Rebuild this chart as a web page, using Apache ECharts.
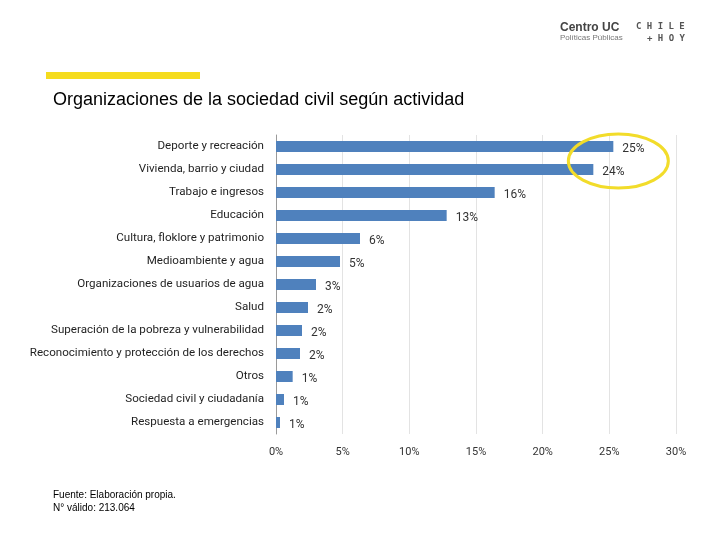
<!DOCTYPE html>
<html><head><meta charset="utf-8">
<script src="https://cdn.jsdelivr.net/npm/echarts@6/dist/echarts.min.js"></script>
<style>html,body{margin:0;padding:0;background:#fff}#c{width:720px;height:540px}</style>
</head><body><div id="c"></div>
<script>
const categories = ["Deporte y recreación","Vivienda, barrio y ciudad","Trabajo e ingresos","Educación","Cultura, floklore y patrimonio","Medioambiente y agua","Organizaciones de usuarios de agua","Salud","Superación de la pobreza y vulnerabilidad","Reconocimiento y protección de los derechos","Otros","Sociedad civil y ciudadanía","Respuesta a emergencias"];
const values = [25.3, 23.8, 16.4, 12.8, 6.3, 4.8, 3.0, 2.4, 1.95, 1.8, 1.25, 0.6, 0.3];
const valueLabels = ["25%","24%","16%","13%","6%","5%","3%","2%","2%","2%","1%","1%","1%"];
const xTicks = [0,5,10,15,20,25,30];

const chart = echarts.init(document.getElementById('c'));
const font = 'Roboto';
chart.setOption({
  animation:false,
  backgroundColor:'#fff',
  grid:{left:276,right:44,top:135,bottom:106},
  xAxis:{type:'value',min:xTicks[0],max:xTicks[xTicks.length-1],interval:5,
    axisLine:{show:false},axisTick:{show:false},
    splitLine:{lineStyle:{color:'#e3e3e3',width:1}},
    axisLabel:{formatter:v=>v+'%',color:'#333',fontFamily:font,fontSize:11,margin:13}},
  yAxis:{type:'category',data:categories,inverse:true,
    axisLine:{lineStyle:{color:'#9a9a9a',width:1}},axisTick:{show:false},
    axisLabel:{color:'#1f1f1f',fontFamily:font,fontSize:11.6,margin:12,padding:[3,0,0,0]}},
  series:[{type:'bar',data:values,barWidth:11,
    itemStyle:{color:'#4f81bd'},
    label:{show:true,position:'right',distance:9,offset:[0,2],color:'#333',fontFamily:font,fontSize:12,
      formatter:p=>valueLabels[p.dataIndex]}}],
  graphic:[
    {id:'bar',type:'rect',shape:{x:46,y:72,width:154,height:7},style:{fill:'#f5dc1e'}},
    {id:'title',type:'text',left:53,top:91,style:{text:'Organizaciones de la sociedad civil según actividad',font:'18px "Liberation Sans", Arial',fill:'#000'}},
    {id:'l1',type:'text',left:560,top:22,style:{text:'Centro UC',font:'bold 12px "Liberation Sans", Arial',fill:'#444'}},
    {id:'l2',type:'text',left:560,top:34,style:{text:'Políticas Públicas',font:'8px "Liberation Sans", Arial',fill:'#777'}},
    {id:'l3',type:'text',left:636,top:22,style:{text:'C H I L E',font:'bold 9px "DejaVu Sans Mono", monospace',fill:'#555'}},
    {id:'l4',type:'text',left:647,top:34,style:{text:'+ H O Y',font:'bold 9px "DejaVu Sans Mono", monospace',fill:'#555'}},
    {id:'foot',type:'text',left:53,top:489,style:{text:'Fuente: Elaboración propia.\nN° válido: 213.064',font:'10px "Liberation Sans", Arial',fill:'#000',lineHeight:13}}
  ]
});
// annotation ellipse around top two bars
const p0 = chart.convertToPixel({gridIndex:0},[values[0],0]);
const p1 = chart.convertToPixel({gridIndex:0},[values[1],1]);
chart.setOption({graphic:[{id:'ellipse',type:'ellipse',shape:{cx:(p0[0]+p1[0])/2+15,cy:(p0[1]+p1[1])/2+3,rx:50,ry:27},
  style:{fill:'none',stroke:'#f2dc2a',lineWidth:3},z:10}]});
</script></body></html>
